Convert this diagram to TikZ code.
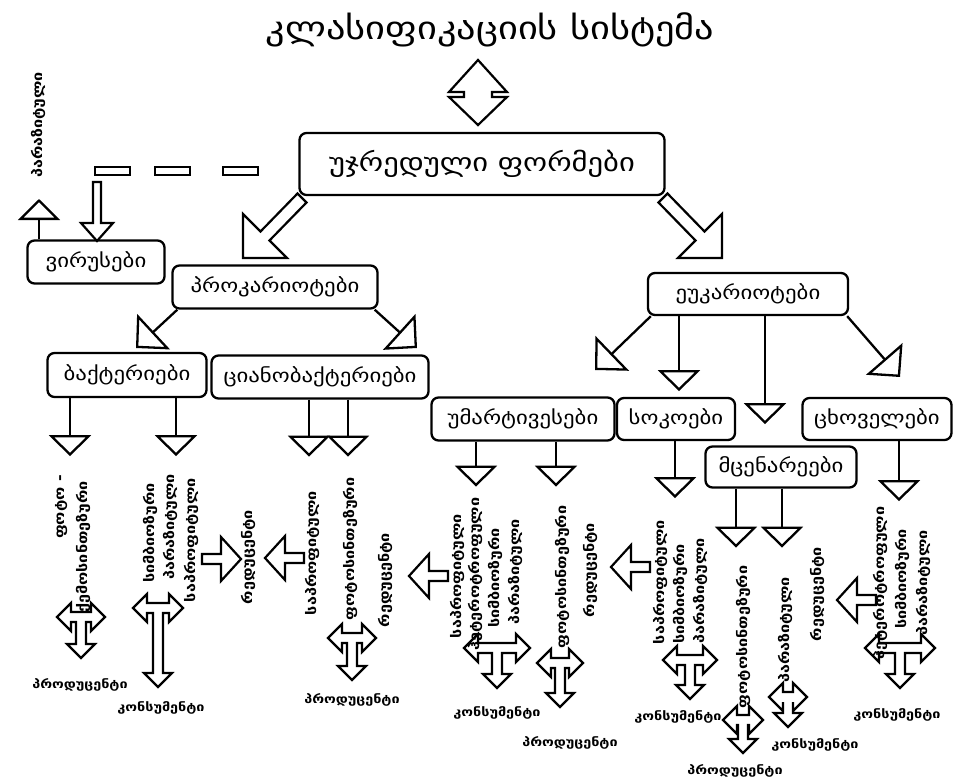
\documentclass[tikz,border=0pt]{standalone}
\usepackage{fontspec}
\setmainfont{DejaVu Sans}
\newfontfamily\geo[FakeStretch=1.2]{DejaVu Sans}
\usetikzlibrary{arrows.meta}
\newcommand\TArr[4]{%
\begin{scope}[shift={(#1,#2)}]
\draw[blk] (-#3,0) -- ({-#3+14},-14) -- ({-#3+14},-5) -- ({#3-14},-5) -- ({#3-14},-14) -- (#3,0)
 -- ({#3-14},14) -- ({#3-14},5) -- (5,5) -- (5,{#4-14}) -- (14,{#4-14}) -- (0,#4) -- (-14,{#4-14})
 -- (-5,{#4-14}) -- (-5,5) -- ({-#3+14},5) -- ({-#3+14},14) -- cycle;
\end{scope}}
\newcommand\LArr[2]{\draw[blk] (#1,#2) -- ++(20,-22) -- ++(0,17) -- ++(19,0) -- ++(0,10) -- ++(-19,0) -- ++(0,17) -- cycle;}
\newcommand\RArr[2]{\draw[blk] (#1,#2) -- ++(-20,-22) -- ++(0,17) -- ++(-19,0) -- ++(0,10) -- ++(19,0) -- ++(0,17) -- cycle;}
\begin{document}
\begin{tikzpicture}[x=1pt,y=-1pt,
  box/.style={draw,line width=2.3pt,rounded corners=7pt,fill=white,inner sep=0pt,font=\geo\fontsize{19}{22}\selectfont},
  blk/.style={draw,line width=2.2pt,fill=white,line join=miter},
  tri/.style={line width=2.3pt,-{Triangle[open,length=21pt,width=42pt]}},
  tridiag/.style={line width=2.3pt,-{Triangle[open,length=24pt,width=48pt]}},
  vt/.style={rotate=90,inner sep=0pt,font=\geo\bfseries\fontsize{13.5}{15}\selectfont},
  ht/.style={inner sep=0pt,font=\geo\bfseries\fontsize{12}{14}\selectfont},
]
\useasboundingbox (0,0) rectangle (959,779);

% title and top double arrow
\node[inner sep=0pt,font=\geo\fontsize{32}{36}\selectfont] (title) at (490,30) {კლასიფიკაციის სისტემა};
\draw[blk] (478,60) -- (507,92) -- (492,92) -- (492,97) -- (507,97) -- (478,125) -- (449,97) -- (464,97) -- (464,92) -- (449,92) -- cycle;

% boxes
\node[box,minimum width=365pt,minimum height=62pt,font=\geo\fontsize{25.5}{28}\selectfont] (cell) at (482,164) {უჯრედული ფორმები};
\node[box,minimum width=137pt,minimum height=43pt] (vir) at (96,262) {ვირუსები};
\node[box,minimum width=205pt,minimum height=43pt] (prok) at (275,287) {პროკარიოტები};
\node[box,minimum width=200pt,minimum height=42pt] (euk) at (748,294) {ეუკარიოტები};
\node[box,minimum width=159pt,minimum height=44pt] (bact) at (127,375) {ბაქტერიები};
\node[box,minimum width=217pt,minimum height=43pt] (cyan) at (320,377) {ციანობაქტერიები};
\node[box,minimum width=183pt,minimum height=43pt] (prot) at (523,419) {უმარტივესები};
\node[box,minimum width=118pt,minimum height=42pt] (fung) at (676,419) {სოკოები};
\node[box,minimum width=149pt,minimum height=42pt] (anim) at (877,419) {ცხოველები};
\node[box,minimum width=151pt,minimum height=41pt] (plant) at (781,467) {მცენარეები};

% big block arrows from the main box
\draw[blk] (297.5,193.5) -- (260.5,231.5) -- (243,214) -- (243,258) -- (287,258) -- (269.5,240.5) -- (306.5,202.5) -- cycle;
\draw[blk] (667.5,193.5) -- (704.5,231.5) -- (722,214) -- (722,258) -- (678,258) -- (695.5,240.5) -- (658.5,202.5) -- cycle;

% dashed link to viruses
\foreach \a in {95,155,223}{\draw[line width=2pt,fill=white] (\a,167) rectangle ++(35,8);}
\draw[blk] (93,182) -- (101,182) -- (101,223) -- (113,223) -- (97,241) -- (81,223) -- (93,223) -- cycle;
\coordinate (vup) at (39,199);
\draw[tri] ([xshift=-57pt]vir.north) -- (vup);
\node[vt] (vpar) at (38,125) {პარაზიტული};

% prokaryote connectors
\coordinate (pl) at (136,348);
\coordinate (pr) at (417,348);
\draw[tridiag] ([xshift=6pt]prok.south west) -- (pl);
\draw[tridiag] ([xshift=-4pt]prok.south east) -- (pr);

% eukaryote connectors
\coordinate (el) at (595,370);
\coordinate (er) at (900,377);
\draw[tridiag] ([xshift=4pt]euk.south west) -- (el);
\draw[tri] ([xshift=-69pt]euk.south) -- ++(0,75);
\draw[tri] ([xshift=17pt]euk.south) -- ++(0,108);
\draw[tridiag] ([xshift=-2pt]euk.south east) -- (er);

% group connectors
\draw[tri] ([xshift=-57pt]bact.south) -- ++(0,58);
\draw[tri] ([xshift=49pt]bact.south) -- ++(0,58);
\draw[tri] ([xshift=-11pt]cyan.south) -- ++(0,57);
\draw[tri] ([xshift=28pt]cyan.south) -- ++(0,57);
\draw[tri] ([xshift=-47pt]prot.south) -- ++(0,45);
\draw[tri] ([xshift=33pt]prot.south) -- ++(0,45);
\draw[tri] ([xshift=-1pt]fung.south) -- ++(0,57);
\draw[tri] ([xshift=-45pt]plant.south) -- ++(0,59);
\draw[tri] ([xshift=1pt]plant.south) -- ++(0,59);
\draw[tri] ([xshift=22pt]anim.south) -- ++(0,60);

% side arrows
\RArr{241}{559}
\LArr{265}{558}
\LArr{409}{576}
\LArr{611}{567}
\LArr{837}{600}

% T arrows
\TArr{81}{617}{24}{41}
\TArr{158}{608}{25}{79}
\TArr{352}{638}{24}{42}
\TArr{497}{648}{33}{40}
\TArr{560}{663}{23}{44}
\TArr{690}{660}{27}{39}
\TArr{743}{720}{20}{33}
\TArr{788}{697}{19}{30}
\TArr{900}{648}{35}{40}

% vertical texts
\node[vt] (b1) at (62,507) {ფოტო -};
\node[vt] (b2) at (83,547) {ქემოსინთეზური};
\node[vt] (b3) at (150,533) {სიმბიოზური};
\node[vt] (b4) at (170,527) {პარაზიტული};
\node[vt] (b5) at (191,540) {საპროფიტული};
\node[vt] (red1) at (248,557) {რედუცენტი};
\node[vt] (c1) at (312,553) {საპროფიტული};
\node[vt] (c2) at (350,549) {ფოტოსინთეზური};
\node[vt] (red2) at (385,580) {რედუცენტი};
\node[vt] (p1) at (457,576) {საპროფიტული};
\node[vt] (p2) at (475,574) {ჰეტეროტროფული};
\node[vt] (p3) at (495,578) {სიმბიოზური};
\node[vt] (p4) at (515,572) {პარაზიტული};
\node[vt] (p5) at (562,577) {ფოტოსინთეზური};
\node[vt] (red3) at (590,570) {რედუცენტი};
\node[vt] (f1) at (660,582) {საპროფიტული};
\node[vt] (f2) at (680,594) {სიმბიოზური};
\node[vt] (f3) at (700,591) {პარაზიტული};
\node[vt] (pl1) at (743,637) {ფოტოსინთეზური};
\node[vt] (pl2) at (785,630) {პარაზიტული};
\node[vt] (red4) at (817,594) {რედუცენტი};
\node[vt] (a1) at (880,583) {ჰეტეროტროფული};
\node[vt] (a2) at (902,579) {სიმბიოზური};
\node[vt] (a3) at (923,583) {პარაზიტული};

% bottom labels
\node[ht] (l1) at (80,685) {პროდუცენტი};
\node[ht] (l2) at (161,708) {კონსუმენტი};
\node[ht] (l3) at (352,700) {პროდუცენტი};
\node[ht] (l4) at (497,713) {კონსუმენტი};
\node[ht] (l5) at (570,743) {პროდუცენტი};
\node[ht] (l6) at (678,717) {კონსუმენტი};
\node[ht] (l7) at (735,771) {პროდუცენტი};
\node[ht] (l8) at (815,745) {კონსუმენტი};
\node[ht] (l9) at (897,715) {კონსუმენტი};
\end{tikzpicture}
\end{document}
